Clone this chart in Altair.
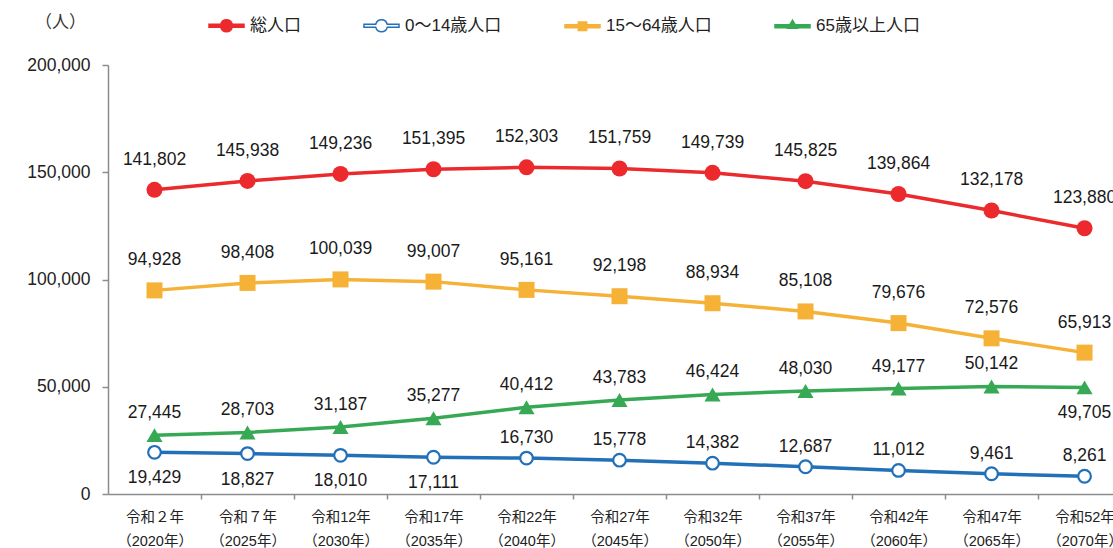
import json
import altair as alt
import pandas as pd

# ---- data ----
era_labels = ["令和２年", "令和７年", "令和12年", "令和17年", "令和22年", "令和27年",
              "令和32年", "令和37年", "令和42年", "令和47年", "令和52年"]
year_labels = ["（2020年）", "（2025年）", "（2030年）", "（2035年）", "（2040年）", "（2045年）",
               "（2050年）", "（2055年）", "（2060年）", "（2065年）", "（2070年）"]
series_names = ["総人口", "0～14歳人口", "15～64歳人口", "65歳以上人口"]
total_pop = [141802, 145938, 149236, 151395, 152303, 151759, 149739, 145825, 139864, 132178, 123880]
age_0_14 = [19429, 18827, 18010, 17111, 16730, 15778, 14382, 12687, 11012, 9461, 8261]
age_15_64 = [94928, 98408, 100039, 99007, 95161, 92198, 88934, 85108, 79676, 72576, 65913]
age_65_plus = [27445, 28703, 31187, 35277, 40412, 43783, 46424, 48030, 49177, 50142, 49705]
y_ticks = [0, 50000, 100000, 150000, 200000]
# points whose value label sits below the marker
labels_below = {"0～14歳人口": [0, 1, 2, 3], "65歳以上人口": [10]}

series_values = [total_pop, age_0_14, age_15_64, age_65_plus]

# ---- styles ----
colors = ["#EC2A2D", "#2170B8", "#F5B236", "#37A955"]
legend_fills = ["#EC2A2D", "#FFFFFF", "#F5B236", "#37A955"]
legend_paths = [
    "M-1,-0.09L-0.328,-0.09A0.34,0.34,0,0,1,0.328,-0.09L1,-0.09L1,0.09L0.328,0.09A0.34,0.34,0,0,1,-0.328,0.09L-1,0.09Z",
    "M-1,-0.09L-0.328,-0.09A0.34,0.34,0,0,1,0.328,-0.09L1,-0.09L1,0.09L0.328,0.09A0.34,0.34,0,0,1,-0.328,0.09L-1,0.09Z",
    "M-1,-0.09L-0.24,-0.09L-0.24,-0.24L0.24,-0.24L0.24,-0.09L1,-0.09L1,0.09L0.24,0.09L0.24,0.24L-0.24,0.24L-0.24,0.09L-1,0.09Z",
    "M-1,-0.09L-0.152,-0.09L0,-0.34L0.152,-0.09L1,-0.09L1,0.09L0.262,0.09L0.28,0.12L-0.28,0.12L-0.262,0.09L-1,0.09Z",
]
FONT = "Liberation Sans, Noto Sans CJK JP, sans-serif"

rows = []
for name, vals in zip(series_names, series_values):
    for i, v in enumerate(vals):
        rows.append({
            "series": name, "i": i, "value": v,
            "below": i in labels_below.get(name, []),
        })
df = pd.DataFrame(rows)

label_expr = f"[{json.dumps(era_labels, ensure_ascii=False)}[datum.value], {json.dumps(year_labels, ensure_ascii=False)}[datum.value]]"

x_enc = alt.X(
    "i:Q",
    scale=alt.Scale(domain=[-0.5, 10.306], nice=False, zero=False),
    axis=alt.Axis(
        values=list(range(11)), labelExpr=label_expr, title=None, grid=False,
        tickOffset=46.5, labelOffset=-46.5, tickSize=5, labelFontSize=14.5,
        labelLineHeight=24, labelPadding=11, labelColor="#222222", labelAngle=0,
        labelFlush=False, labelOverlap=False, labelBound=False,
        domainColor="#8c8c8c", tickColor="#8c8c8c", domainWidth=1.5, tickWidth=1.5,
    ),
)
y_enc = alt.Y(
    "value:Q",
    scale=alt.Scale(domain=[0, 200000], nice=False),
    axis=alt.Axis(
        values=y_ticks, format=",d", grid=False, tickSize=6, labelPadding=12,
        labelFontSize=17.5, labelColor="#222222", domainColor="#8c8c8c",
        tickColor="#8c8c8c", domainWidth=1.5, tickWidth=1.5,
        title="（人）", titleAngle=0, titleX=-48, titleY=-43, titleAlign="center",
        titleBaseline="middle", titleFontSize=17, titleFontWeight="normal",
        titleColor="#333333",
    ),
)

base = alt.Chart(df).encode(x=x_enc, y=y_enc)

lines = base.mark_line(strokeWidth=3.5).encode(
    color=alt.Color("series:N", scale=alt.Scale(domain=series_names, range=colors), legend=None),
    detail="series:N",
)

point_styles = [
    dict(shape="circle", size=256, fill=colors[0], stroke=colors[0], strokeWidth=0),
    dict(shape="circle", size=160, fill="#FFFFFF", stroke=colors[1], strokeWidth=2.2),
    dict(shape="square", size=256, fill=colors[2], stroke=colors[2], strokeWidth=0),
    dict(shape="triangle-up", size=260, fill=colors[3], stroke=colors[3], strokeWidth=0),
]
points = []
for name, st in zip(series_names, point_styles):
    points.append(
        base.mark_point(filled=True, opacity=1, **st).transform_filter(
            alt.datum.series == name
        )
    )

leg = alt.Legend(
    orient="none", legendX=100, legendY=-58, direction="horizontal", title=None,
    symbolSize=1225, labelFontSize=17, labelOffset=5, columnPadding=60,
    symbolStrokeWidth=1.5, labelColor="#222222", symbolOpacity=1, padding=0,
    labelFont=FONT,
)
# invisible marks (size 0) that only carry the legend
legend_layer = base.mark_point(filled=True, size=0, strokeWidth=0).encode(
    shape=alt.Shape("series:N", scale=alt.Scale(domain=series_names, range=legend_paths), legend=leg),
    fill=alt.Fill("series:N", scale=alt.Scale(domain=series_names, range=legend_fills), legend=leg),
    stroke=alt.Stroke("series:N", scale=alt.Scale(domain=series_names, range=colors), legend=leg),
)

above_dy = {"総人口": -30, "0～14歳人口": -20, "15～64歳人口": -30, "65歳以上人口": -22}
below_dy = 26
texts = []
for name in series_names:
    texts.append(
        base.mark_text(fontSize=17.5, color="#1a1a1a", baseline="middle", dy=above_dy[name], font=FONT)
        .encode(text=alt.Text("value:Q", format=","))
        .transform_filter((alt.datum.series == name) & (alt.datum.below == False))
    )
    if name in labels_below:
        texts.append(
            base.mark_text(fontSize=17.5, color="#1a1a1a", baseline="middle", dy=below_dy, font=FONT)
            .encode(text=alt.Text("value:Q", format=","))
            .transform_filter((alt.datum.series == name) & (alt.datum.below == True))
        )

chart = alt.layer(legend_layer, lines, *points, *texts).properties(
    width=1005, height=429,
    autosize=alt.AutoSizeParams(type="none"),
    padding={"left": 108, "top": 65, "right": 0, "bottom": 54},
).configure(font=FONT).configure_view(stroke=None)

chart.save("out.html", embed_options={"renderer": "svg", "actions": False})
